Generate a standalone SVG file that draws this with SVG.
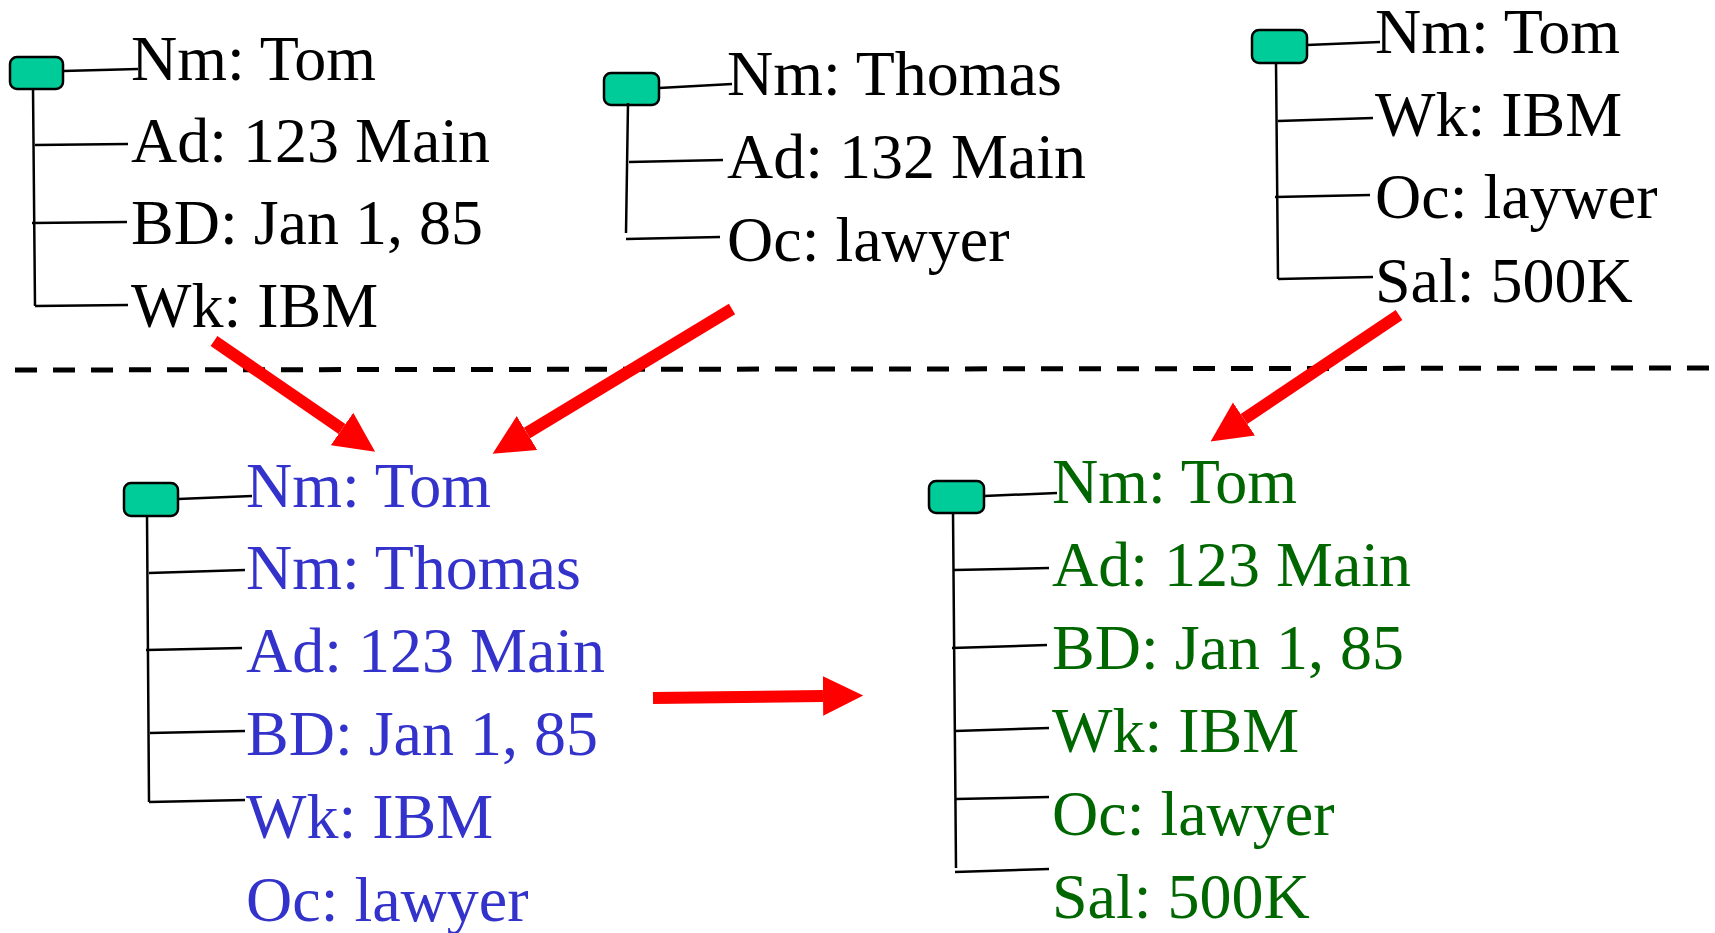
<svg xmlns="http://www.w3.org/2000/svg" width="1715" height="933" viewBox="0 0 1715 933">
  <style>
    .box { fill: #00CC99; stroke: #000; stroke-width: 2.5; }
    .edge { fill: none; stroke: #000; stroke-width: 2.5; }
    .t { font-family: "Liberation Serif", "Times New Roman", serif; font-size: 64px; }
    .black { fill: #000; }
    .blue { fill: #3333CC; }
    .green { fill: #006600; }
    .arrow { fill: none; stroke: #FF0000; stroke-width: 12; marker-end: url(#head); }
    .sep { fill: none; stroke: #000; stroke-width: 5; stroke-dasharray: 22 16; }
  </style>
  <defs>
    <marker id="head" markerUnits="strokeWidth" markerWidth="3.4" markerHeight="3.4" refX="0" refY="1.65" orient="auto" viewBox="0 0 3.4 3.3">
      <path d="M0,0 L3.35,1.65 L0,3.3 Z" fill="#FF0000"/>
    </marker>
  </defs>

  <rect width="1715" height="933" fill="#fff"/>

  <!-- record: Tom (source 1) -->
  <g id="rec-tom-1">
    <rect class="box" x="10" y="57" width="53" height="32" rx="7"/>
    <path class="edge" d="M63,71 L138,69 M33,88 L35,306 M35,145 L128,144 M32,223 L127,222 M35,306 L128,305"/>
    <g class="t black">
      <text x="131" y="80">Nm: Tom</text>
      <text x="131" y="162">Ad: 123 Main</text>
      <text x="131" y="244">BD: Jan 1, 85</text>
      <text x="131" y="327">Wk: IBM</text>
    </g>
  </g>

  <!-- record: Thomas (source 2) -->
  <g id="rec-thomas">
    <rect class="box" x="604" y="73" width="55" height="32" rx="7"/>
    <path class="edge" d="M659,88 L732,84 M628,103 L626,233 M629,162 L723,160 M626,239 L720,237"/>
    <g class="t black">
      <text x="727" y="95">Nm: Thomas</text>
      <text x="727" y="178">Ad: 132 Main</text>
      <text x="727" y="261">Oc: lawyer</text>
    </g>
  </g>

  <!-- record: Tom (source 3) -->
  <g id="rec-tom-3">
    <rect class="box" x="1252" y="30" width="55" height="33" rx="7"/>
    <path class="edge" d="M1307,45 L1380,42 M1276,62 L1278,279 M1278,121 L1373,118 M1275,197 L1370,195 M1278,279 L1373,277"/>
    <g class="t black">
      <text x="1375" y="53">Nm: Tom</text>
      <text x="1375" y="136">Wk: IBM</text>
      <text x="1375" y="218">Oc: laywer</text>
      <text x="1375" y="302">Sal: 500K</text>
    </g>
  </g>

  <!-- merged record (union) -->
  <g id="rec-merged-blue">
    <rect class="box" x="124" y="483" width="54" height="33" rx="7"/>
    <path class="edge" d="M178,499 L252,496 M147,515 L149,802 M149,573 L245,570 M146,650 L242,648 M150,733 L245,731 M149,802 L245,800"/>
    <g class="t blue">
      <text x="246" y="507">Nm: Tom</text>
      <text x="246" y="589">Nm: Thomas</text>
      <text x="246" y="672">Ad: 123 Main</text>
      <text x="246" y="755">BD: Jan 1, 85</text>
      <text x="246" y="838">Wk: IBM</text>
      <text x="246" y="921">Oc: lawyer</text>
    </g>
  </g>

  <!-- cleaned record -->
  <g id="rec-merged-green">
    <rect class="box" x="929" y="481" width="55" height="32" rx="7"/>
    <path class="edge" d="M984,496 L1057,493 M953,512 L956,868 M954,570 L1049,568 M952,648 L1047,645 M955,731 L1049,728 M956,799 L1049,797 M955,872 L1049,869"/>
    <g class="t green">
      <text x="1052" y="503">Nm: Tom</text>
      <text x="1052" y="586">Ad: 123 Main</text>
      <text x="1052" y="669">BD: Jan 1, 85</text>
      <text x="1052" y="752">Wk: IBM</text>
      <text x="1052" y="835">Oc: lawyer</text>
      <text x="1052" y="918">Sal: 500K</text>
    </g>
  </g>

  <!-- separator between sources and results -->
  <path class="sep" d="M15,370 L1715,368"/>

  <!-- connectors -->
  <g id="connectors">
    <path class="arrow" d="M214,341 L342,429"/>
    <path class="arrow" d="M732,309 L527,433"/>
    <path class="arrow" d="M1399,315 L1244,419"/>
    <path class="arrow" d="M653,698 L823,696"/>
  </g>
</svg>
